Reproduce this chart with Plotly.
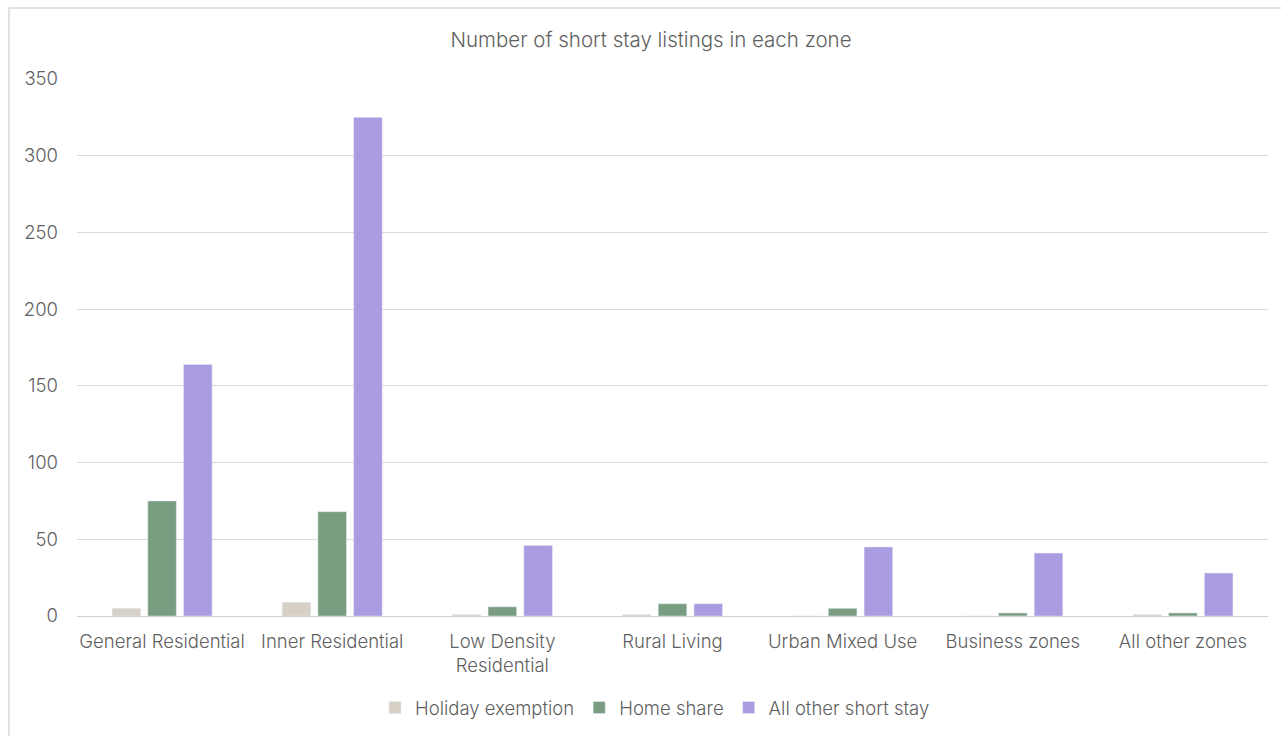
import plotly.graph_objects as go

# Zones along the x axis
zones = ["General Residential", "Inner Residential", "Low Density<br>Residential",
         "Rural Living", "Urban Mixed Use", "Business zones", "All other zones"]

# Listing counts per zone for each listing type
holiday_exemption = [5, 9, 1, 1, 0, 0, 1]
home_share = [75, 68, 6, 8, 5, 2, 2]
all_other_short_stay = [164, 325, 46, 8, 45, 41, 28]

y_ticks = [0, 50, 100, 150, 200, 250, 300, 350]

W, H = 1281, 736
ML, MR, MT, MB = 77, 13, 79, 120
TEXT = "#5f5f5f"
FONT = "Inter, Lato, sans-serif"
LIGHT = 300

fig = go.Figure()
fig.add_trace(go.Bar(name="Holiday exemption", x=zones, y=holiday_exemption,
                     marker_color="#d6d0c7"))
fig.add_trace(go.Bar(name="Home share", x=zones, y=home_share,
                     marker_color="#7a9d82"))
fig.add_trace(go.Bar(name="All other short stay", x=zones, y=all_other_short_stay,
                     marker_color="#ab9be0"))

# Outer frame around the whole chart area
pw, ph = W - ML - MR, H - MT - MB
fig.add_shape(type="rect", xref="paper", yref="paper",
              x0=(9 - ML) / pw, x1=(W + 20 - ML) / pw,
              y0=-(H + 20 - MT - ph) / ph, y1=(H - MB - 8) / ph,
              line=dict(color="#d9d9d9", width=1.5), fillcolor="rgba(0,0,0,0)",
              layer="below")

fig.update_layout(
    width=W, height=H,
    margin=dict(l=ML, r=MR, t=MT, b=MB),
    paper_bgcolor="white", plot_bgcolor="white",
    barmode="group", bargap=0.37, bargroupgap=0.2,
    font=dict(family=FONT, color=TEXT, size=18.5, weight=LIGHT),
    title=dict(text="Number of short stay listings in each zone",
               x=651 / W, xanchor="center", xref="container",
               y=1 - 40 / H, yanchor="middle", yref="container",
               font=dict(size=20.5, color=TEXT, family=FONT, weight=LIGHT)),
    legend=dict(orientation="h", xref="container", yref="container",
                x=655 / W, xanchor="center", y=1 - 708 / H, yanchor="middle",
                font=dict(size=18.5, color=TEXT, weight=LIGHT),
                traceorder="normal", itemwidth=30),
    xaxis=dict(showgrid=False, showline=False, ticks="", ticklabelstandoff=12,
               tickfont=dict(size=18.5, weight=LIGHT)),
    yaxis=dict(range=[0, 350], tickvals=y_ticks, showgrid=True,
               gridcolor="#d9d9d9", gridwidth=1, zeroline=True,
               zerolinecolor="#d0d0d0", zerolinewidth=1, showline=False,
               ticks="", ticklabelstandoff=18,
               tickfont=dict(size=18.5, weight=LIGHT)),
)

fig.write_html("out.html")
